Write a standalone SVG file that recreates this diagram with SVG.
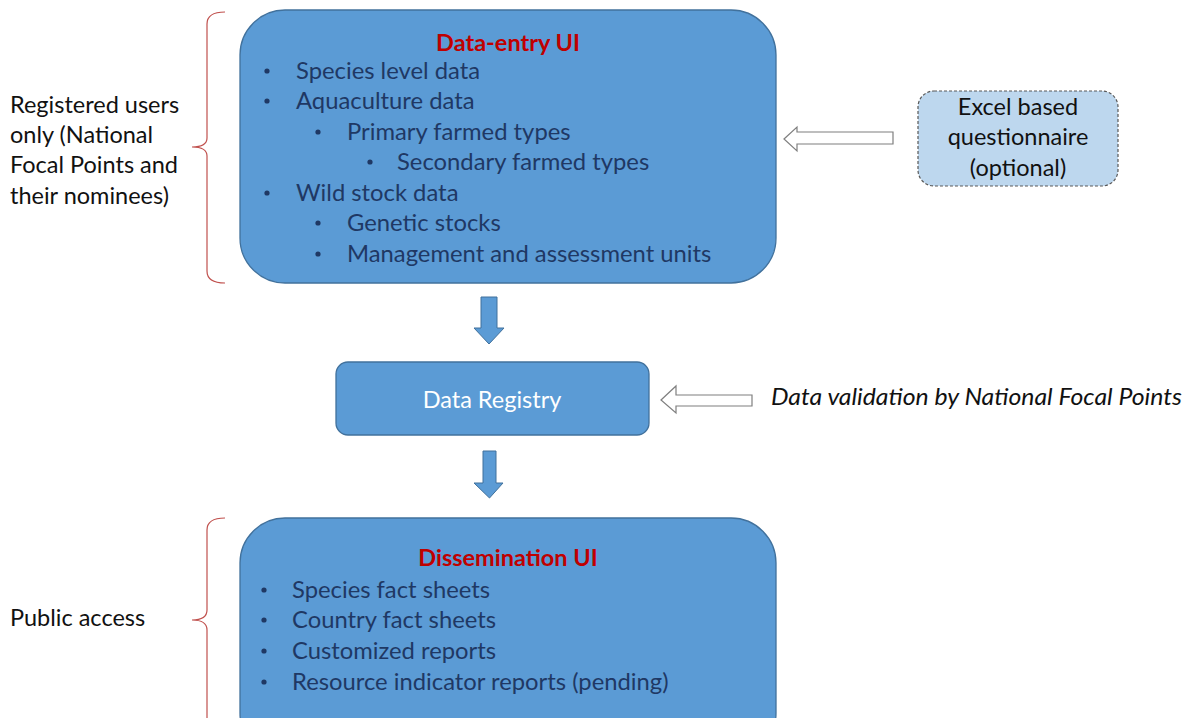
<svg xmlns="http://www.w3.org/2000/svg" width="1194" height="718" viewBox="0 0 1194 718">
<style>
.box{fill:#5B9BD5;stroke:#41719C;stroke-width:1.3}
.t{font-family:Lato,"Liberation Sans",sans-serif;font-size:23.8px;fill:#1F3864}
.k{font-family:Lato,"Liberation Sans",sans-serif;font-size:23.5px;fill:#111}
.h{font-family:Lato,"Liberation Sans",sans-serif;font-size:23.5px;font-weight:bold;fill:#C00000}
.b{fill:#1F3864}
.brace{fill:none;stroke:#C0504D;stroke-width:1.2}
.hollow{fill:#fff;stroke:#7F7F7F;stroke-width:1.2}
.solid{fill:#5B9BD5;stroke:#41719C;stroke-width:1}
</style>
<rect width="1194" height="718" fill="#fff"/>
<g id="labels">
<text class="k" x="10" y="113">Registered users</text>
<text class="k" x="10" y="143">only (National</text>
<text class="k" x="10" y="173">Focal Points and</text>
<text class="k" x="10" y="204">their nominees)</text>
<text class="k" x="10" y="626">Public access</text>
<path class="brace" d="M225,12 Q207,12 207,24 L207,138 Q207,147 192,147 Q207,147 207,156 L207,271 Q207,283 225,283"/>
<path class="brace" d="M225,518 Q207,518 207,530 L207,610 Q207,620 192,620 Q207,620 207,630 L207,730"/>
</g>
<g id="data-entry">
<rect class="box" x="240" y="10" width="536" height="273" rx="45"/>
<text class="h" x="508" y="51" text-anchor="middle">Data-entry UI</text>
<g class="b">
<circle cx="267" cy="71" r="2.6"/><circle cx="267" cy="101" r="2.6"/><circle cx="318" cy="132" r="2.6"/>
<circle cx="370" cy="162" r="2.6"/><circle cx="267" cy="193" r="2.6"/><circle cx="318" cy="223" r="2.6"/>
<circle cx="318" cy="254" r="2.6"/>
</g>
<g class="t">
<text x="296" y="79">Species level data</text>
<text x="296" y="109">Aquaculture data</text>
<text x="347" y="140">Primary farmed types</text>
<text x="397" y="170">Secondary farmed types</text>
<text x="296" y="201">Wild stock data</text>
<text x="347" y="231">Genetic stocks</text>
<text x="347" y="262">Management and assessment units</text>
</g>
</g>
<g id="excel">
<rect x="918" y="91" width="200" height="95" rx="16" fill="#BDD7EE" stroke="#595959" stroke-width="1.2" stroke-dasharray="3,2"/>
<text class="k" x="1018" y="115" text-anchor="middle">Excel based</text>
<text class="k" x="1018" y="145" text-anchor="middle">questionnaire</text>
<text class="k" x="1018" y="176" text-anchor="middle">(optional)</text>
</g>
<g id="registry">
<rect class="box" x="336" y="362" width="313" height="73" rx="12"/>
<text x="492" y="408" text-anchor="middle" font-family="Lato,'Liberation Sans',sans-serif" font-size="23.5" fill="#fff">Data Registry</text>
</g>
<g id="validation">
<text x="771" y="405" font-family="Lato,'Liberation Sans',sans-serif" font-size="24" font-style="italic" fill="#111" textLength="411" lengthAdjust="spacingAndGlyphs">Data validation by National Focal Points</text>
</g>
<g id="dissemination">
<rect class="box" x="240" y="518" width="536" height="240" rx="45"/>
<text class="h" x="508" y="566" text-anchor="middle">Dissemination UI</text>
<g class="b">
<circle cx="264" cy="590" r="2.6"/><circle cx="264" cy="620" r="2.6"/><circle cx="264" cy="651" r="2.6"/><circle cx="264" cy="682" r="2.6"/>
</g>
<g class="t">
<text x="292" y="598">Species fact sheets</text>
<text x="292" y="628">Country fact sheets</text>
<text x="292" y="659">Customized reports</text>
<text x="292" y="690">Resource indicator reports (pending)</text>
</g>
</g>
<g id="connectors">
<path class="hollow" d="M784,139 L797,127 L797,132 L893,132 L893,144 L797,144 L797,151 Z"/>
<path class="hollow" d="M661,400 L676,386 L676,395 L752,395 L752,406 L676,406 L676,413 Z"/>
<path class="solid" d="M481,297 L497,297 L497,328 L504,328 L489,344 L474,328 L481,328 Z"/>
<path class="solid" d="M483,451 L496,451 L496,483 L503,483 L489.5,498 L474,483 L483,483 Z"/>
</g>
</svg>
